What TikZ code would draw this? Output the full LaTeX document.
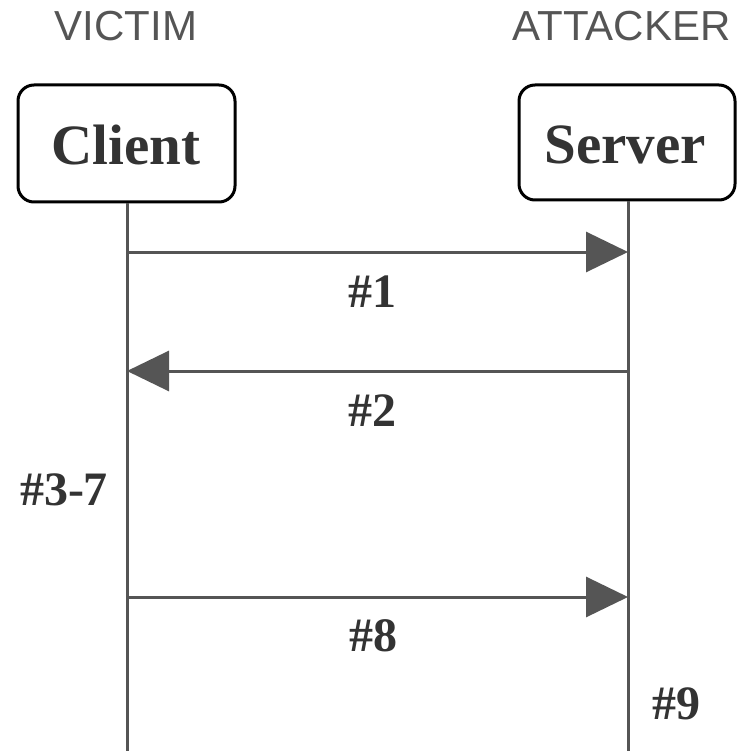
\documentclass[tikz,border=0pt]{standalone}
\usepackage{fontspec}
\setmainfont{Liberation Serif}
\newfontfamily\headfont{Liberation Sans}
\usetikzlibrary{arrows.meta}
\definecolor{linegray}{HTML}{555555}
\definecolor{textdark}{HTML}{333333}
\tikzset{
  actor/.style={draw=black, line width=3pt, rounded corners=16pt, fill=white,
    text=textdark, font=\fontsize{57}{60}\selectfont\bfseries, inner sep=0pt},
  role/.style={font=\headfont\fontsize{42}{44}\selectfont, text=linegray, anchor=base, inner sep=0pt},
  lifeline/.style={draw=linegray, line width=3pt},
  msg/.style={draw=linegray, line width=3pt, -{Triangle[length=42pt,width=40pt]}, color=linegray},
  steplabel/.style={font=\fontsize{48}{50}\selectfont\bfseries, text=textdark, anchor=base, inner sep=0pt}
}
\begin{document}
\begin{tikzpicture}[x=1pt,y=-1pt]
\useasboundingbox (0,0) rectangle (740,751);
\fill[white] (0,0) rectangle (740,751);
% roles
\node[role] (victim) at (126,41) {VICTIM};
\node[role] (attacker) at (621.5,41) {ATTACKER};
% actors
\node[actor, minimum width=217pt, minimum height=117pt] (client) at (126.5,143.5) {};
\node[actor, minimum width=216pt, minimum height=115pt] (server) at (627,142.5) {};
\node[font=\fontsize{57}{60}\selectfont\bfseries, text=textdark, anchor=base, inner sep=0pt] (clienttxt) at (126,165) {Client};
\node[font=\fontsize{57}{60}\selectfont\bfseries, text=textdark, anchor=base, inner sep=0pt] (servertxt) at (625,164) {Server};
% lifeline ends
\coordinate (cend) at (127,751);
\coordinate (send) at (628,751);
\draw[lifeline] (client.south -| cend) -- (cend);
\draw[lifeline] (server.south -| send) -- (send);
% message points
\coordinate (c1) at (127,252); \coordinate (s1) at (628,252);
\coordinate (c2) at (127,371); \coordinate (s2) at (628,371);
\coordinate (c8) at (127,597); \coordinate (s8) at (628,597);
\draw[msg] (c1) -- (s1);
\draw[msg] (s2) -- (c2);
\draw[msg] (c8) -- (s8);
% labels
\node[steplabel] (l1) at (372,307) {\#1};
\node[steplabel] (l2) at (372,426) {\#2};
\node[steplabel] (l37) at (64,505) {\#3-7};
\node[steplabel] (l8) at (373,651) {\#8};
\node[steplabel] (l9) at (676,719) {\#9};
\end{tikzpicture}
\end{document}
